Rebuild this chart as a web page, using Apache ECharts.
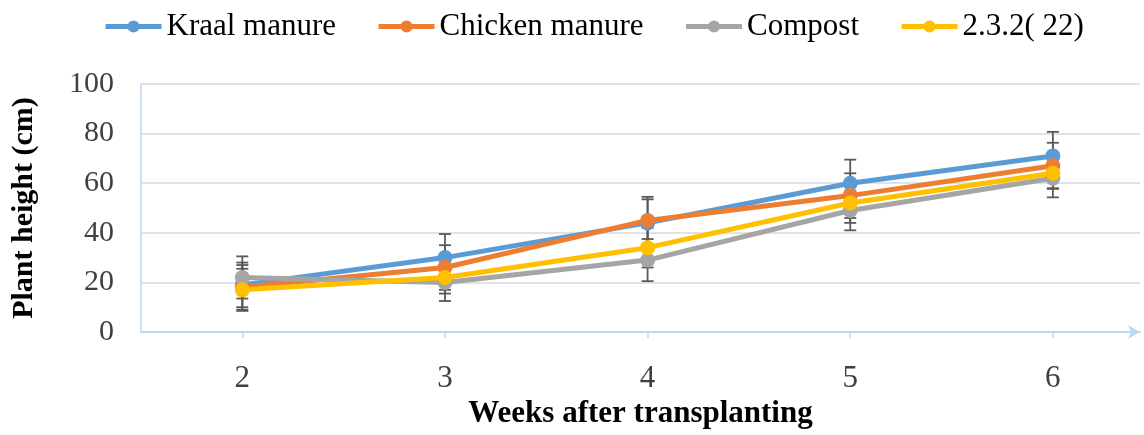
<!DOCTYPE html>
<html>
<head>
<meta charset="utf-8">
<script src="https://cdn.jsdelivr.net/npm/echarts@6/dist/echarts.min.js"></script>
<style>
  html, body { margin: 0; padding: 0; background: #fff; }
  #chart { width: 1144px; height: 435px; }
</style>
</head>
<body>
<div id="chart"></div>
<script>
// Weeks after transplanting
const weeks = [2, 3, 4, 5, 6];

// Mean plant height (cm) per treatment
const kraalManure   = [19, 30, 44, 60, 71];
const chickenManure = [18, 26, 45, 55, 67];
const compost       = [22, 20, 29, 49, 62];
const mix232        = [17, 22, 34, 52, 64];

// Error (± cm) per treatment
const kraalErr   = [9, 9.5, 9.5, 9.5, 9.7];
const chickenErr = [9, 9, 9.5, 9, 9.3];
const compostErr = [8.5, 7.5, 8.5, 8, 7.7];
const mixErr     = [8.5, 6.5, 8, 8, 6];

const yTicks = [0, 20, 40, 60, 80, 100];

const seriesDefs = [
  { name: 'Kraal manure',   values: kraalManure,   err: kraalErr,   color: '#5B9BD5' },
  { name: 'Chicken manure', values: chickenManure, err: chickenErr, color: '#ED7D31' },
  { name: 'Compost',        values: compost,       err: compostErr, color: '#A5A5A5' },
  { name: '2.3.2( 22)',     values: mix232,        err: mixErr,     color: '#FFC000' }
];

const serif = '"Liberation Serif", "Times New Roman", serif';

function errorBarItem(params, api) {
  const x = api.value(0);
  const lo = api.coord([x, api.value(1)]);
  const hi = api.coord([x, api.value(2)]);
  const cap = 6;
  const style = { stroke: '#595959', lineWidth: 1.8 };
  return {
    type: 'group',
    children: [
      { type: 'line', shape: { x1: hi[0], y1: hi[1], x2: lo[0], y2: lo[1] }, style },
      { type: 'line', shape: { x1: hi[0] - cap, y1: hi[1], x2: hi[0] + cap, y2: hi[1] }, style },
      { type: 'line', shape: { x1: lo[0] - cap, y1: lo[1], x2: lo[0] + cap, y2: lo[1] }, style }
    ]
  };
}

const series = [];
seriesDefs.forEach(function (d) {
  series.push({
    type: 'custom',
    renderItem: errorBarItem,
    encode: { x: 0, y: [1, 2] },
    z: 1,
    silent: true,
    data: weeks.map(function (w, i) { return [w, d.values[i] - d.err[i], d.values[i] + d.err[i]]; })
  });
});
seriesDefs.forEach(function (d) {
  series.push({
    name: d.name,
    type: 'line',
    z: 3,
    symbol: 'circle',
    symbolSize: 15,
    itemStyle: { color: d.color },
    lineStyle: { color: d.color, width: 5 },
    data: weeks.map(function (w, i) { return [w, d.values[i]]; })
  });
});

const chart = echarts.init(document.getElementById('chart'));
chart.setOption({
  animation: false,
  backgroundColor: '#ffffff',
  legend: {
    data: seriesDefs.map(function (d) { return d.name; }),
    left: 98,
    top: 6,
    itemWidth: 56,
    itemHeight: 15,
    itemGap: 40,
    lineStyle: { width: 5 },
    textStyle: { fontFamily: serif, fontSize: 31, color: '#000' }
  },
  grid: { left: 141, right: 4, top: 84, bottom: 103, outerBoundsMode: 'none', containLabel: false },
  xAxis: {
    type: 'value',
    min: 1.5,
    max: 6.43,
    name: 'Weeks after transplanting',
    nameLocation: 'middle',
    nameGap: 64,
    nameTextStyle: { fontFamily: serif, fontSize: 31, fontWeight: 'bold', color: '#000' },
    axisLine: {
      show: true,
      lineStyle: { color: '#BDD7EE', width: 2 },
      symbol: ['none', 'arrow'],
      symbolSize: [10, 12]
    },
    axisTick: { show: true, customValues: weeks, length: 6, lineStyle: { color: '#BDD7EE', width: 1.5 } },
    axisLabel: {
      customValues: weeks,
      margin: 31,
      fontFamily: serif,
      fontSize: 31,
      color: '#404040'
    },
    splitLine: { show: false }
  },
  yAxis: {
    type: 'value',
    min: yTicks[0],
    max: yTicks[yTicks.length - 1],
    interval: 20,
    name: 'Plant height (cm)',
    nameLocation: 'middle',
    nameGap: 102,
    nameTextStyle: { fontFamily: serif, fontSize: 30, fontWeight: 'bold', color: '#000' },
    axisLine: { show: true, lineStyle: { color: '#BDD7EE', width: 1.5 } },
    axisTick: { show: false },
    axisLabel: { margin: 27, fontFamily: serif, fontSize: 30, color: '#404040' },
    splitLine: { show: true, lineStyle: { color: '#D9D9D9', width: 1.5 } }
  },
  series: series
});
</script>
</body>
</html>
